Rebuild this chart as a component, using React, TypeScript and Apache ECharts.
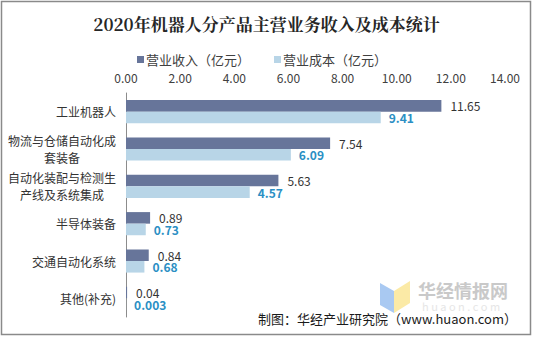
import React, { useEffect, useRef } from "react";
import * as echarts from "echarts";

const categories = ["工业机器人", "物流与仓储自动化成\n套装备", "自动化装配与检测生\n产线及系统集成", "半导体装备", "交通自动化系统", "其他(补充)"];
const revenue = [11.65, 7.54, 5.63, 0.89, 0.84, 0.04];
const cost = [9.41, 6.09, 4.57, 0.73, 0.68, 0.003];
const revenueName = "营业收入（亿元）";
const costName = "营业成本（亿元）";
const labelTexts = {
  revenue: ["11.65", "7.54", "5.63", "0.89", "0.84", "0.04"],
  cost: ["9.41", "6.09", "4.57", "0.73", "0.68", "0.003"],
};

export default function App() {
  const ref = useRef<HTMLDivElement>(null);
  useEffect(() => {
    if (!ref.current) return;
    const chart = echarts.init(ref.current, null, { renderer: "svg" });
    const font = "'Noto Sans CJK SC', 'Noto Sans', sans-serif";
    chart.setOption({
      animation: false,
      backgroundColor: "#ffffff",
      textStyle: { fontFamily: font },
      title: {
        text: "2020年机器人分产品主营业务收入及成本统计",
        left: "center",
        top: 10,
        textStyle: { fontSize: 17, fontWeight: "bold", color: "#262626", fontFamily: "'Noto Serif CJK SC', 'Noto Sans CJK SC', serif" },
      },
      legend: {
        top: 48,
        left: 132,
        itemWidth: 7,
        itemHeight: 7,
        itemGap: 24,
        icon: "rect",
        textStyle: { fontSize: 13, color: "#404040", padding: [0, 0, 0, -3] },
        data: [revenueName, costName],
      },
      grid: { left: 126, right: 28, top: 93, bottom: 21, containLabel: false },
      xAxis: {
        type: "value",
        position: "top",
        min: 0,
        max: 14,
        interval: 2,
        axisLine: { show: false },
        axisTick: { show: false },
        splitLine: { show: false },
        axisLabel: { formatter: (v: number) => v.toFixed(2), fontSize: 12, color: "#404040", margin: 10 },
      },
      yAxis: {
        type: "category",
        inverse: true,
        data: categories,
        axisLine: { show: true, lineStyle: { color: "#8c8c8c", width: 1 } },
        axisTick: { show: false },
        axisLabel: {
          fontSize: 12,
          color: "#333333",
          margin: 10,
          lineHeight: 17,
          formatter: (v: string) => v.split("\n").map((s) => `{c|${s}}`).join("\n"),
          rich: { c: { align: "center", fontSize: 12, color: "#333333", lineHeight: 17 } },
        },
      },
      series: [
        {
          name: revenueName,
          type: "bar",
          data: revenue,
          barGap: "0%",
          barCategoryGap: "38%",
          itemStyle: { color: "#67759a" },
          label: {
            show: true,
            position: "right",
            distance: 9,
            fontSize: 12,
            lineHeight: 12,
            color: "#333333",
            formatter: (p: any) => labelTexts.revenue[p.dataIndex],
          },
        },
        {
          name: costName,
          type: "bar",
          data: cost,
          itemStyle: { color: "#b8d5e7" },
          label: {
            show: true,
            position: "right",
            distance: 8,
            fontSize: 12,
            lineHeight: 12,
            fontWeight: "bold",
            color: "#2b8fc4",
            formatter: (p: any) => labelTexts.cost[p.dataIndex],
          },
        },
      ],
      graphic: [
        { type: "rect", shape: { x: 1.5, y: 1.5, width: 529, height: 333 }, style: { fill: "none", stroke: "#8a8a8a", lineWidth: 1.5 }, z: 0 },
        { type: "polygon", shape: { points: [[380, 283], [394, 291], [394, 313], [380, 305]] }, style: { fill: "#a9c9f2" }, z: 1 },
        { type: "polygon", shape: { points: [[394, 291], [410, 281], [410, 303], [394, 313]] }, style: { fill: "#fbeaa6" }, z: 1 },
        { type: "text", x: 418, y: 281, style: { text: "华经情报网", fontSize: 18, fontWeight: "bold", fill: "#c9c9c9", fontFamily: font }, z: 1 },
        { type: "text", x: 422, y: 300, style: { text: "h u a o n . c o m", fontSize: 11, fill: "#e6e6e6", fontFamily: font }, z: 1 },
        { type: "text", right: 16, top: 312, style: { text: "制图：华经产业研究院（www.huaon.com）", fontSize: 13, fill: "#1a1a1a", fontFamily: font }, z: 2 },
      ],
    });
    return () => chart.dispose();
  }, []);
  return <div ref={ref} style={{ position: "absolute", left: 0, top: 0, width: 533, height: 338 }} />;
}
